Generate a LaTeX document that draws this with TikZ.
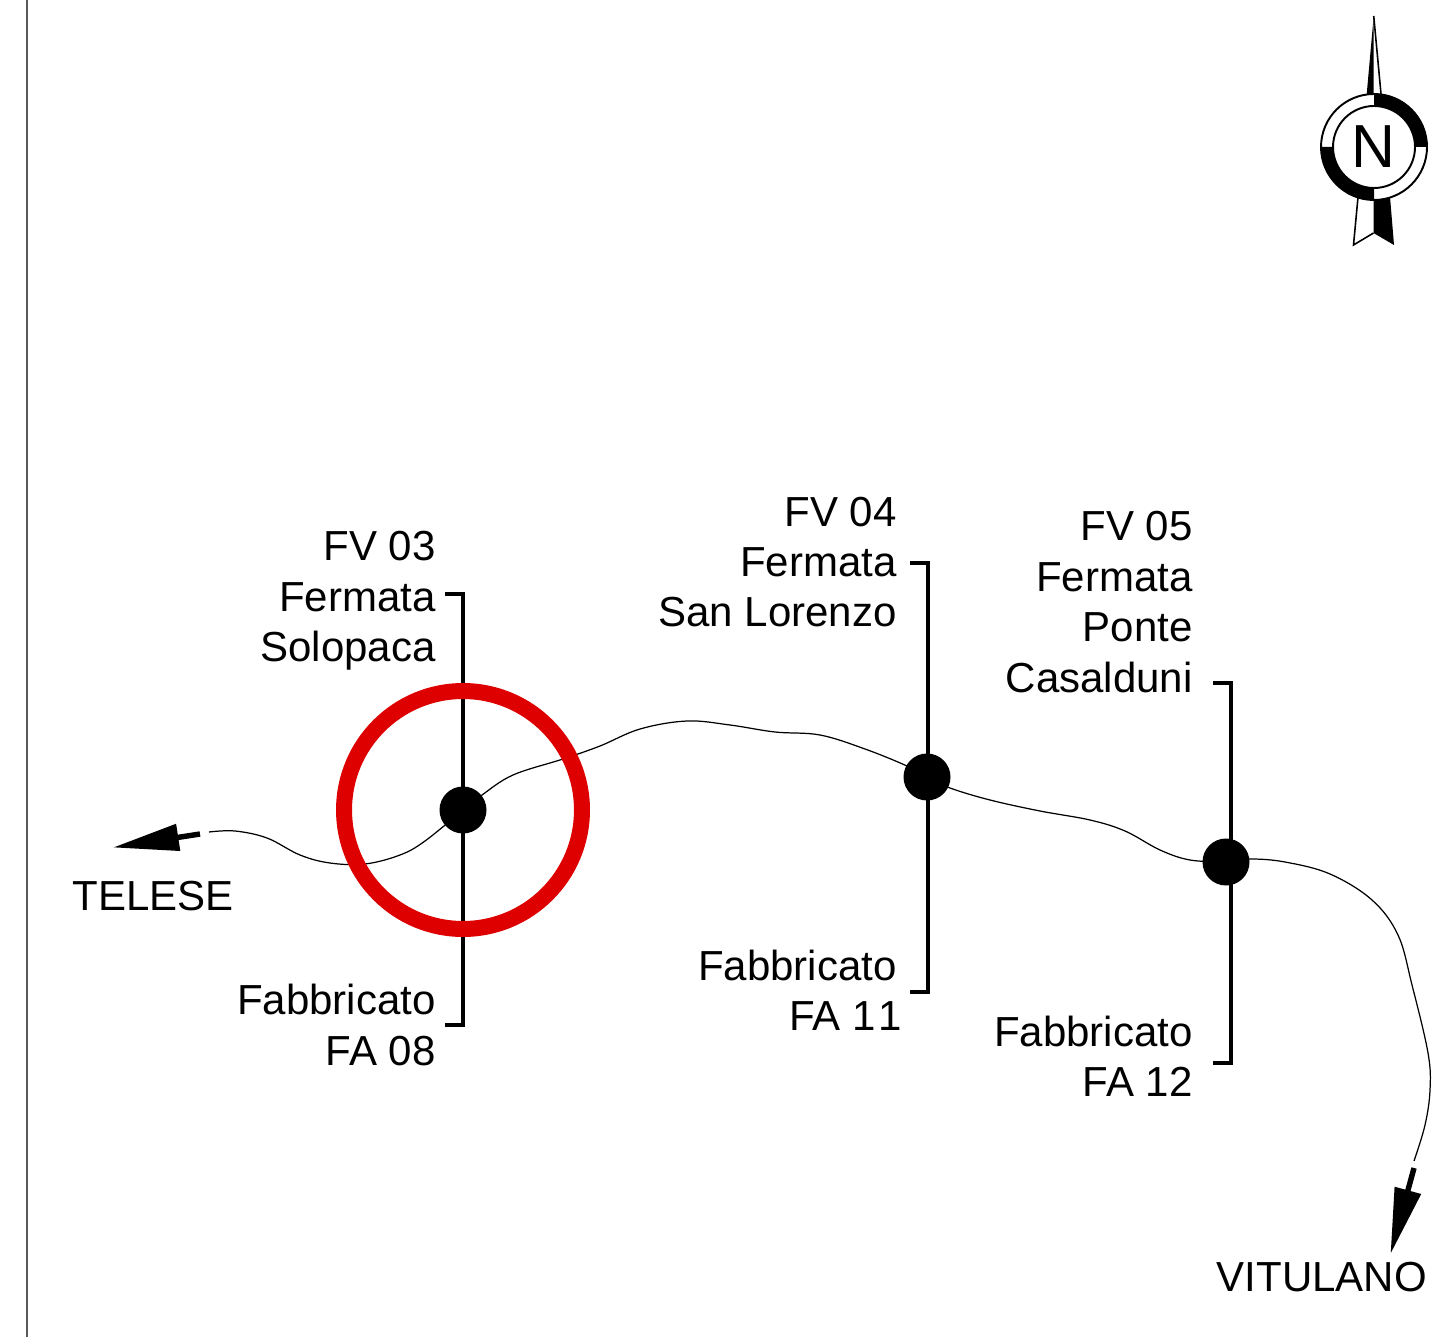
\documentclass[tikz,border=0pt]{standalone}
\usepackage{fontspec}
\setmainfont{Liberation Sans}
\usetikzlibrary{arrows.meta}
\definecolor{cerchiored}{RGB}{222,0,0}
\tikzset{
	testo/.style={inner sep=0pt, font=\fontsize{23.9}{28.7}\selectfont, align=right},
	fermata/.style={circle, fill=black, inner sep=0pt, minimum size=0.94cm},
	staffa/.style={line width=2pt, black},
	binario/.style={line width=0.7pt, black},
	freccia/.style={line width=3.1pt, black, -{Triangle[length=1.32cm, width=0.52cm]}}
}
\begin{document}
\begin{tikzpicture}[x=0.02cm, y=-0.02cm]
	\useasboundingbox (0, 0) rectangle (1439, 1337);

	\draw[line width=0.8pt, black!65] (27, 0) to (27, 1337);

	\node[fermata] (fv03) at (463, 810) {};
	\node[fermata] (fv04) at (927, 777) {};
	\node[fermata] (fv05) at (1226, 862) {};

	\coordinate (binarioA) at (209, 832);
	\coordinate (binarioB) at (1414, 1161);
	\draw[binario] plot[smooth, tension=0.6] coordinates {(binarioA) (235, 831) (267, 838) (300, 855) (330, 863) (365, 864) (400, 855) (425, 841) (fv03)};
	\draw[binario] plot[smooth, tension=0.6] coordinates {(fv03) (482, 795) (513, 775) (563, 759) (600, 746) (640, 729) (687, 721) (730, 725) (775, 732) (820, 735) (865, 749) (907, 766) (fv04)};
	\draw[binario] plot[smooth, tension=0.6] coordinates {(fv04) (950, 788) (990, 800) (1040, 811) (1090, 820) (1125, 831) (1160, 850) (1190, 860) (fv05)};
	\draw[binario] plot[smooth, tension=0.6] coordinates {(fv05) (1250, 859) (1285, 862) (1330, 874) (1372, 900) (1398, 935) (1412, 985) (1428, 1053) (1430, 1090) (1425, 1125) (binarioB)};

	\coordinate (a1) at (445, 594);
	\coordinate (a2) at (463, 594);
	\coordinate (a3) at (463, 1025);
	\coordinate (a4) at (445, 1025);
	\coordinate (b1) at (910, 563);
	\coordinate (b2) at (928, 563);
	\coordinate (b3) at (928, 992);
	\coordinate (b4) at (910, 992);
	\coordinate (c1) at (1213, 683);
	\coordinate (c2) at (1231, 683);
	\coordinate (c3) at (1231, 1063);
	\coordinate (c4) at (1213, 1063);
	\draw[staffa] (a1) to (a2) to (a3) to (a4);
	\draw[staffa] (b1) to (b2) to (b3) to (b4);
	\draw[staffa] (c1) to (c2) to (c3) to (c4);

	\node[circle, draw=cerchiored, line width=0.32cm, inner sep=0pt, minimum size=4.76cm] (cerchio) at (463, 810) {};

	\coordinate (codaT) at (200, 834);
	\coordinate (puntaT) at (113, 847.5);
	\coordinate (codaV) at (1414, 1168);
	\coordinate (puntaV) at (1390.5, 1254);
	\draw[freccia] (codaT) to (puntaT);
	\draw[freccia] (codaV) to (puntaV);

	\node[testo, anchor=base west] (telese) at (72, 910.5) {TELESE};
	\node[testo, anchor=base east] (vitulano) at (1427, 1291) {VITULANO};

	\node[testo, anchor=east] (nomeA) at (436, 601) {FV 03\\Fermata\\Solopaca};
	\node[testo, anchor=east] (fabbA) at (436, 1025) {Fabbricato\\FA 08};
	\node[testo, anchor=east] (nomeB) at (897, 562) {FV 04\\Fermata\\San Lorenzo};
	\node[testo, anchor=east] (fabbB) at (902, 990) {Fabbricato\hspace*{0.1cm}\\FA 1\kern1.5pt 1};
	\node[testo, anchor=east] (nomeC) at (1193, 602) {FV 05\\Fermata\\Ponte\\Casalduni};
	\node[testo, anchor=east] (fabbC) at (1193, 1056) {Fabbricato\\FA 12};

	\fill[black] (1373.7, 16) -- (1366.7, 94) -- (1373.7, 94) -- cycle;
	\draw[line width=0.9pt] (1373.7, 16) -- (1381, 94);
	\draw[line width=0.9pt] (1358, 197) -- (1353.5, 245) -- (1373.5, 233);
	\fill[black] (1373.5, 197) -- (1373.5, 233) -- (1394, 245) -- (1390, 197) -- cycle;
	\filldraw[fill=white, draw=black, line width=1.1pt] (1374, 147) circle (53);
	\fill[black] (1374, 94) arc (-90:0:53) -- (1415, 147) arc (0:-90:41) -- cycle;
	\fill[black] (1321, 147) arc (180:90:53) -- (1374, 188) arc (90:180:41) -- cycle;
	\draw[line width=1.1pt] (1374, 147) circle (41);
	\node[inner sep=0pt, font=\fontsize{34.6}{40}\selectfont] (nord) at (1373.5, 147) {N};
\end{tikzpicture}
\end{document}
